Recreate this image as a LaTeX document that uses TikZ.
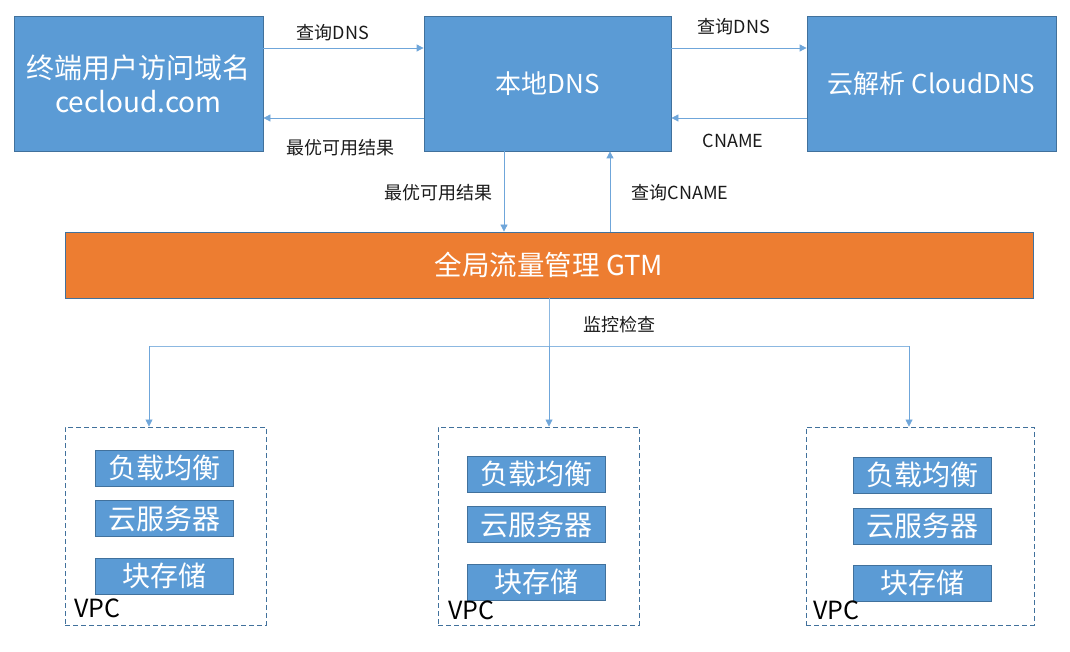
\documentclass[tikz,border=0pt]{standalone}
\usepackage{fontspec}
\setmainfont{Noto Sans CJK SC}
\usetikzlibrary{arrows.meta,calc}
\definecolor{boxblue}{HTML}{5B9BD5}
\definecolor{edgeblue}{HTML}{41719C}
\definecolor{gtmorange}{HTML}{ED7D31}
\definecolor{lineblue}{HTML}{6FA6DA}
\definecolor{labelgray}{HTML}{1A1A1A}
\tikzset{
  bigbox/.style={draw=edgeblue, line width=0.8pt, fill=boxblue, text=white, inner sep=0pt, align=center, font=\fontsize{26}{33}\selectfont},
  smallbox/.style={draw=edgeblue, line width=0.8pt, fill=boxblue, text=white, inner sep=0pt, minimum width=138pt, minimum height=36pt, font=\fontsize{28}{30}\selectfont},
  vpcbox/.style={draw=edgeblue, line width=0.9pt, dash pattern=on 5pt off 3pt, inner sep=0pt, minimum width=201pt, minimum height=198pt},
  arr/.style={draw=lineblue, line width=0.8pt, -{Triangle[width=7pt,length=7pt]}},
  plain/.style={draw=lineblue!80, line width=0.8pt},
  lbl/.style={text=labelgray, font=\fontsize{18}{20}\selectfont, inner sep=0pt},
  vpclbl/.style={text=black, font=\fontsize{25}{27}\selectfont, inner sep=0pt, anchor=west}
}
\begin{document}
\begin{tikzpicture}[x=1pt,y=-1pt]
\useasboundingbox (0,0) rectangle (1070,652);
% top boxes
\node[bigbox, minimum width=249pt, minimum height=135pt, font=\fontsize{28}{34}\selectfont] (user) at (138.5,83.5) {终端用户访问域名\\cecloud.com};
\node[bigbox, minimum width=247pt, minimum height=135pt] (ldns) at (547.5,83.5) {本地DNS};
\node[bigbox, minimum width=249pt, minimum height=135pt] (cdns) at (931.5,83.5) {云解析 CloudDNS};
% GTM
\node[bigbox, fill=gtmorange, minimum width=968pt, minimum height=66pt, font=\fontsize{27.5}{30}\selectfont] (gtm) at (549,265) {全局流量管理 GTM};
% helper coordinates
\coordinate (ua) at (263,48);
\coordinate (ub) at (263,118);
\coordinate (ca) at (807,48);
\coordinate (cb) at (807,118);
\coordinate (dn) at (504,0);
\coordinate (up) at (610,0);
% horizontal arrows
\draw[arr] (user.east |- ua) -- (ldns.west |- ua);
\draw[arr] (ldns.west |- ub) -- (user.east |- ub);
\draw[arr] (ldns.east |- ca) -- (cdns.west |- ca);
\draw[arr] (cdns.west |- cb) -- (ldns.east |- cb);
% vertical arrows
\draw[arr] (ldns.south -| dn) -- (gtm.north -| dn);
\draw[arr] (gtm.north -| up) -- (ldns.south -| up);
% labels
\node[lbl] (l1) at (333,33) {查询DNS};
\node[lbl] (l2) at (340,148) {最优可用结果};
\node[lbl] (l3) at (734,27) {查询DNS};
\node[lbl] (l4) at (733,141) {CNAME};
\node[lbl] (l5) at (438,193) {最优可用结果};
\node[lbl] (l6) at (680,193) {查询CNAME};
\node[lbl] (l7) at (619,325) {监控检查};
% VPC boxes
\node[vpcbox] (vpc1) at (165.5,526) {};
\node[vpcbox] (vpc2) at (538.5,526) {};
\node[vpcbox, minimum width=228pt] (vpc3) at (920,526) {};
% monitoring connectors
\coordinate (hub) at (549,346);
\coordinate (b1) at (149,346);
\coordinate (b3) at (909,346);
\draw[plain] (gtm.south -| hub) -- (hub);
\draw[plain] (b1) -- (b3);
\draw[arr] (b1) -- (vpc1.north -| b1);
\draw[arr] (hub) -- (vpc2.north -| hub);
\draw[arr] (b3) -- (vpc3.north -| b3);
% inner boxes VPC1
\node[smallbox] (lb1) at (164,468) {负载均衡};
\node[smallbox] (cs1) at (164,518.5) {云服务器};
\node[smallbox] (bs1) at (164,576) {块存储};
\node[vpclbl] (v1) at (74,608) {VPC};
% VPC2
\node[smallbox] (lb2) at (536.5,474) {负载均衡};
\node[smallbox] (cs2) at (536.5,524.5) {云服务器};
\node[smallbox] (bs2) at (536.5,582) {块存储};
\node[vpclbl] (v2) at (448,610) {VPC};
% VPC3
\node[smallbox] (lb3) at (922.5,475) {负载均衡};
\node[smallbox] (cs3) at (922.5,526) {云服务器};
\node[smallbox] (bs3) at (922.5,583) {块存储};
\node[vpclbl] (v3) at (813,610) {VPC};
\end{tikzpicture}
\end{document}
